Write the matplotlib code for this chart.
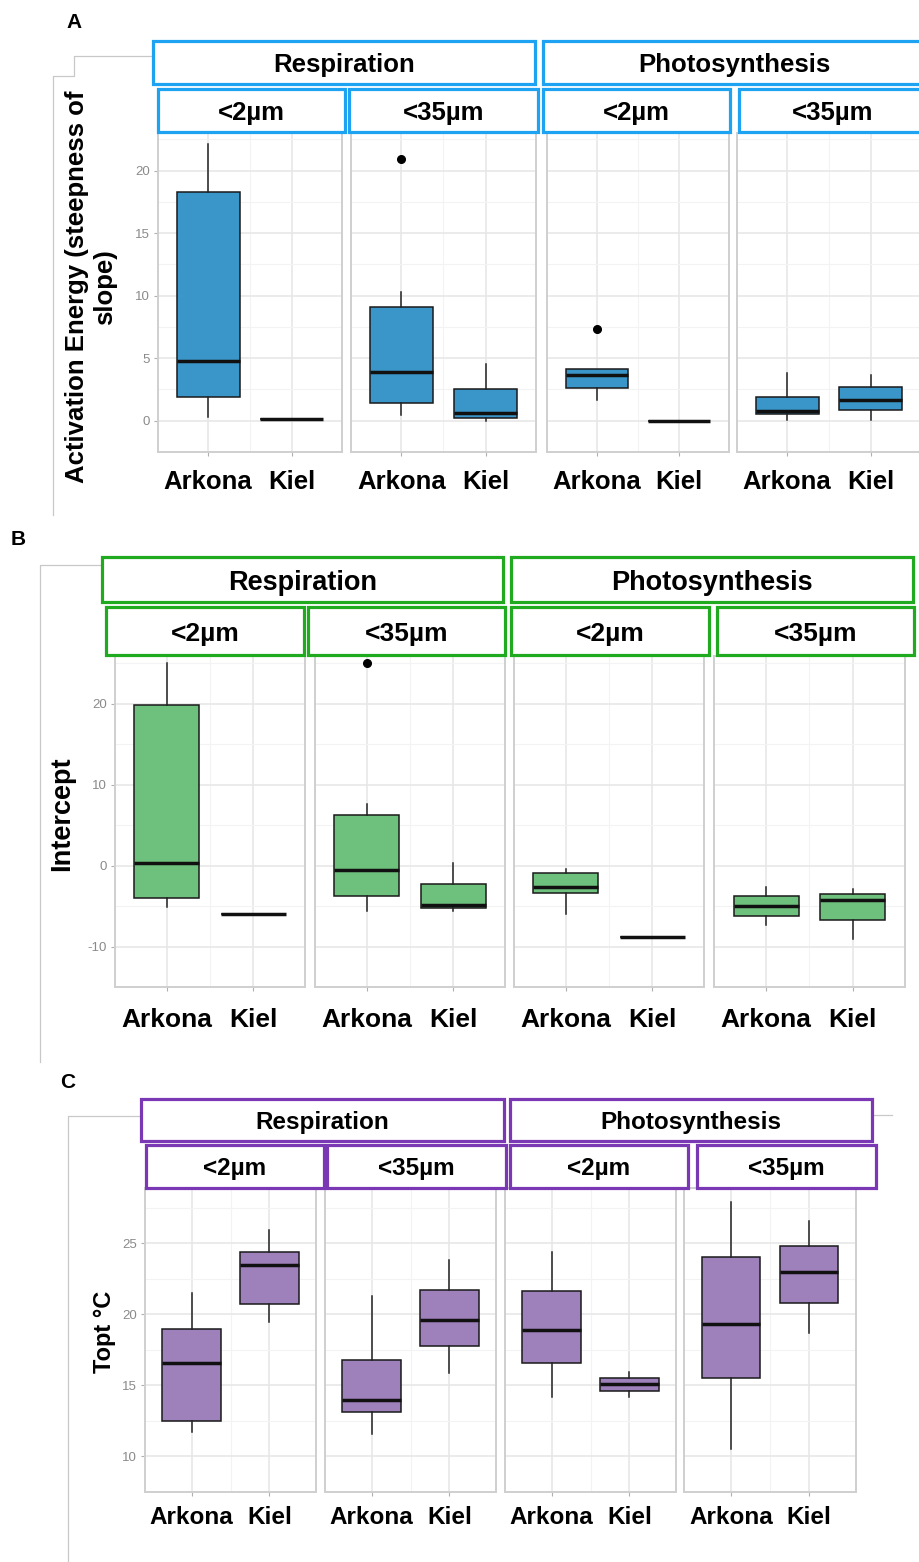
import matplotlib
matplotlib.use('Agg')
import matplotlib.pyplot as plt
from matplotlib.patches import Rectangle
from matplotlib.lines import Line2D

plt.rcParams['font.family'] = ['Liberation Sans', 'DejaVu Sans']
plt.rcParams['axes.unicode_minus'] = False

# ---------------- data ----------------
sites = ['Arkona', 'Kiel']
processes = ['Respiration', 'Photosynthesis']
fractions = ['<2µm', '<35µm']
# order: Resp<2 (Arkona, Kiel), Resp<35 (Arkona, Kiel), Photo<2 (...), Photo<35 (...)
A_lo  = [0.30, 0.15, 0.45, 0.00, 1.66, 0.00, 0.02, 0.07]
A_q1  = [1.86, 0.15, 1.40, 0.23, 2.58, 0.00, 0.53, 0.85]
A_med = [4.80, 0.15, 3.90, 0.58, 3.62, 0.00, 0.78, 1.66]
A_q3  = [18.3, 0.15, 9.10, 2.54, 4.17, 0.00, 1.90, 2.70]
A_hi  = [22.1, 0.15, 10.3, 4.55, 4.17, 0.00, 3.84, 3.67]
A_out = [[], [], [20.95], [], [7.36], [], [], []]

B_lo  = [-5.1, -6.0, -5.65, -5.65, -6.0, -8.85, -7.3, -9.1]
B_q1  = [-4.0, -6.0, -3.8, -5.3, -3.4, -8.85, -6.2, -6.7]
B_med = [0.3, -6.0, -0.56, -4.9, -2.6, -8.85, -5.0, -4.2]
B_q3  = [19.9, -6.0, 6.2, -2.3, -0.9, -8.85, -3.7, -3.5]
B_hi  = [25.0, -6.0, 7.6, 0.37, -0.45, -8.85, -2.6, -2.9]
B_out = [[], [], [25.0], [], [], [], [], []]

C_lo  = [11.7, 19.5, 11.6, 15.9, 14.2, 14.18, 10.5, 18.7]
C_q1  = [12.5, 20.7, 13.1, 17.8, 16.55, 14.6, 15.55, 20.8]
C_med = [16.6, 23.5, 14.0, 19.6, 18.9, 15.07, 19.3, 22.96]
C_q3  = [19.0, 24.4, 16.8, 21.7, 21.66, 15.5, 24.06, 24.8]
C_hi  = [21.5, 25.95, 21.3, 23.85, 24.36, 15.94, 27.9, 26.6]
C_out = [[], [], [], [], [], [], [], []]

A_ticks = [0, 5, 10, 15, 20]
B_ticks = [-10, 0, 10, 20]
C_ticks = [10, 15, 20, 25]

# ---------------- layout helpers ----------------
W, H = 920, 1562
fig = plt.figure(figsize=(W / 100, H / 100), dpi=100)


def fx(x):
    return x / W


def fy(y):
    return 1 - y / H


def add_box(x0, x1, y0, y1, color, label, size):
    r = Rectangle((fx(x0), fy(y1)), fx(x1) - fx(x0), fy(y0) - fy(y1),
                  transform=fig.transFigure, facecolor='white',
                  edgecolor=color, linewidth=2.3, zorder=5)
    fig.add_artist(r)
    fig.text(fx((x0 + x1) / 2), fy((y0 + y1) / 2), label, ha='center',
             va='center_baseline', fontsize=size, fontweight='bold', zorder=6)


def frame_line(xs, ys):
    fig.add_artist(Line2D([fx(v) for v in xs], [fy(v) for v in ys],
                          transform=fig.transFigure, color='#c8c8c8', lw=0.9))


def draw_panel(facets_x, y0, y1, ylim, ticks, lo, q1, med, q3, hi, out,
               fill, scol, top_boxes, sub_boxes, ssize, subsize, xsize, xpad,
               ylabel, ylab_pos, ylab_size, letter, letter_pos):
    for (px0, px1, py0, py1), name in zip(top_boxes, processes):
        add_box(px0, px1, py0, py1, scol, name, ssize)
    for k, (px0, px1, py0, py1) in enumerate(sub_boxes):
        add_box(px0, px1, py0, py1, scol, fractions[k % 2], subsize)
    for f, (x0, x1) in enumerate(facets_x):
        ax = fig.add_axes([fx(x0), fy(y1), fx(x1) - fx(x0), fy(y0) - fy(y1)])
        stats = []
        for s in range(2):
            i = 2 * f + s
            stats.append(dict(whislo=lo[i], q1=q1[i], med=med[i], q3=q3[i],
                              whishi=hi[i], fliers=out[i]))
        ax.bxp(stats, positions=[1, 2], widths=0.75, patch_artist=True,
               showcaps=False,
               boxprops=dict(facecolor=fill, edgecolor='#1a1a1a', linewidth=1.1),
               medianprops=dict(color='#111111', linewidth=2.5),
               whiskerprops=dict(color='#222222', linewidth=1.1),
               flierprops=dict(marker='o', markerfacecolor='black',
                               markeredgecolor='black', markersize=5.5))
        ax.set_xlim(0.4, 2.6)
        ax.set_ylim(*ylim)
        ax.set_xticks([1, 2])
        ax.set_xticklabels(sites, fontsize=xsize, fontweight='bold')
        ax.set_yticks(ticks)
        minors = [(ticks[j] + ticks[j + 1]) / 2 for j in range(len(ticks) - 1)]
        step = ticks[1] - ticks[0]
        minors = [ticks[0] - step / 2] + minors + [ticks[-1] + step / 2]
        ax.set_yticks(minors, minor=True)
        ax.set_xticks([1.5], minor=True)
        ax.grid(True, which='major', color='#e6e6e6', lw=1.1)
        ax.grid(True, which='minor', color='#f3f3f3', lw=0.8)
        ax.set_axisbelow(True)
        ax.tick_params(axis='x', which='major', length=3, color='#b0b0b0',
                       pad=xpad, labelcolor='black')
        ax.tick_params(axis='both', which='minor', length=0)
        if f == 0:
            ax.tick_params(axis='y', which='major', length=3, color='#b0b0b0',
                           labelsize=9.5, labelcolor='#8a8a8a', pad=3)
        else:
            ax.tick_params(axis='y', which='major', length=0, labelleft=False)
        for sp in ax.spines.values():
            sp.set_color('#cfcfcf')
            sp.set_linewidth(1.4)
    fig.text(fx(ylab_pos[0]), fy(ylab_pos[1]), ylabel, rotation=90,
             ha='center', va='center', multialignment='center',
             fontsize=ylab_size, fontweight='bold', linespacing=1.2)
    fig.text(fx(letter_pos[0]), fy(letter_pos[1]), letter, ha='center',
             va='center', fontsize=15, fontweight='bold')


# ---------------- panel A ----------------
frame_line([153, 74, 74, 53, 53], [56, 56, 76, 76, 515])
draw_panel([(158, 342), (351, 536), (547, 729), (737, 921)], 133, 452,
           (-1.1, 23.0), A_ticks, A_lo, A_q1, A_med, A_q3, A_hi, A_out,
           '#3a96c8', '#1ea2f2',
           [(153, 535, 41, 84), (543, 926, 41, 84)],
           [(158, 345, 89, 132), (349, 538, 89, 132), (543, 730, 89, 132),
            (739, 926, 89, 132)],
           18.5, 18.5, 18.5, 9.7,
           'Activation Energy (steepness of\nslope)', (91, 287), 18.5,
           'A', (74, 22))

# ---------------- panel B ----------------
frame_line([101, 40, 40], [565, 565, 1062])
draw_panel([(115, 305), (315, 505), (514, 704), (714, 905)], 656, 987,
           (-10.9, 25.9), B_ticks, B_lo, B_q1, B_med, B_q3, B_hi, B_out,
           '#6ec07d', '#20aa20',
           [(102, 503, 557, 602), (511, 913, 557, 602)],
           [(106, 304, 607, 655), (308, 505, 607, 655), (511, 709, 607, 655),
            (717, 914, 607, 655)],
           19.5, 19, 19, 11.9,
           'Intercept', (62, 814), 19.5,
           'B', (18, 540))

# ---------------- panel C ----------------
frame_line([141, 68, 68], [1116, 1116, 1562])
frame_line([872, 892], [1115, 1115])
draw_panel([(145, 316), (325, 496), (505, 676), (684, 856)], 1188, 1492,
           (9.55, 28.9), C_ticks, C_lo, C_q1, C_med, C_q3, C_hi, C_out,
           '#9e80ba', '#7b38b5',
           [(141, 504, 1099, 1141), (510, 872, 1099, 1141)],
           [(146, 324, 1145, 1188), (327, 506, 1145, 1188), (510, 688, 1145, 1188),
            (697, 876, 1145, 1188)],
           17.5, 17.5, 17.5, 7.1,
           'Topt °C', (105, 1332), 17,
           'C', (68, 1083))

fig.savefig('out.png', dpi=100)
